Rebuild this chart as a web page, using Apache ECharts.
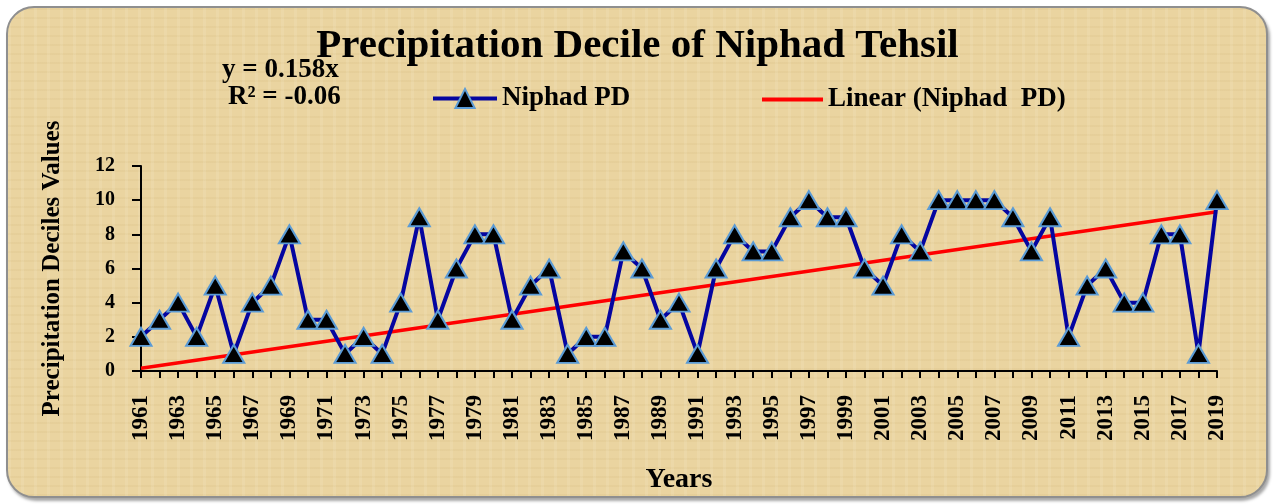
<!DOCTYPE html>
<html>
<head>
<meta charset="utf-8">
<script src="https://cdn.jsdelivr.net/npm/echarts@6/dist/echarts.min.js"></script>
<style>
  html, body { margin: 0; padding: 0; background: #ffffff; }
  #frame {
    position: absolute; left: 6px; top: 6px; width: 1258px; height: 488px;
    border: 2px solid #8f8f8f; border-radius: 28px;
    background-color: #EAD4A0;
    background-image:
      repeating-linear-gradient(90deg, rgba(255,255,240,0.10) 0 3px, rgba(0,0,0,0) 3px 13px),
      repeating-linear-gradient(0deg, rgba(150,110,30,0.05) 0 2px, rgba(0,0,0,0) 2px 9px);
    box-shadow: 2px 3px 3px rgba(0,0,0,0.35);
  }
  #chart { position: absolute; left: 0; top: 0; width: 1275px; height: 504px; }
</style>
</head>
<body>
<div id="frame"></div>
<div id="chart"></div>
<script>
const years = ['1961','1962','1963','1964','1965','1966','1967','1968','1969','1970',
  '1971','1972','1973','1974','1975','1976','1977','1978','1979','1980',
  '1981','1982','1983','1984','1985','1986','1987','1988','1989','1990',
  '1991','1992','1993','1994','1995','1996','1997','1998','1999','2000',
  '2001','2002','2003','2004','2005','2006','2007','2008','2009','2010',
  '2011','2012','2013','2014','2015','2016','2017','2018','2019'];
const niphadPD = [2,3,4,2,5,1,4,5,8,3,
  3,1,2,1,4,9,3,6,8,8,
  3,5,6,1,2,2,7,6,3,4,
  1,6,8,7,7,9,10,9,9,6,
  5,8,7,10,10,10,10,9,7,9,
  2,5,6,4,4,8,8,1,10];
const trendPoints = [['1961', 0.158], ['2019', 9.32]];
const yTicks = { min: 0, max: 12, interval: 2 };
const titleText = 'Precipitation Decile of Niphad Tehsil';
const eqLines = ['y = 0.158x', 'R² = -0.06'];
const seriesNames = ['Niphad PD', 'Linear (Niphad  PD)'];

const FONT = '"Liberation Serif", "Times New Roman", serif';
const legendText = { fontFamily: FONT, fontWeight: 'bold', fontSize: 27, color: '#000' };
const chart = echarts.init(document.getElementById('chart'), null, { renderer: 'canvas' });
chart.setOption({
  backgroundColor: 'transparent',
  animation: false,
  title: {
    text: titleText, left: 'center', top: 21,
    textStyle: { fontFamily: FONT, fontWeight: 'bold', fontSize: 41, color: '#000' }
  },
  graphic: [
    { type: 'text', left: 222, top: 57, style: { text: eqLines[0], fontFamily: FONT, fontWeight: 'bold', fontSize: 27, fill: '#000' } },
    { type: 'text', left: 228, top: 84, style: { text: eqLines[1], fontFamily: FONT, fontWeight: 'bold', fontSize: 27, fill: '#000' } }
  ],
  legend: [
    {
      left: 426, top: 80, itemWidth: 64, itemHeight: 24,
      lineStyle: { width: 4 },
      textStyle: legendText,
      data: [seriesNames[0]]
    },
    {
      left: 757, top: 81, itemWidth: 61, itemHeight: 4, icon: 'rect',
      textStyle: legendText,
      data: [seriesNames[1]]
    }
  ],
  grid: { left: 141, right: 58, top: 166, bottom: 133, containLabel: false },
  xAxis: {
    type: 'category', data: years, boundaryGap: false,
    name: 'Years', nameLocation: 'middle', nameGap: 95,
    nameTextStyle: { fontFamily: FONT, fontWeight: 'bold', fontSize: 28, color: '#000' },
    axisLine: { lineStyle: { color: '#000', width: 2 } },
    axisTick: { show: true, interval: 0, length: 7, lineStyle: { color: '#000', width: 2 } },
    axisLabel: { interval: 1, rotate: 90, margin: 24, fontFamily: FONT, fontWeight: 'bold', fontSize: 23, color: '#000' },
    splitLine: { show: false }
  },
  yAxis: {
    type: 'value', min: yTicks.min, max: yTicks.max, interval: yTicks.interval,
    name: 'Precipitation Deciles Values', nameLocation: 'middle', nameGap: 76, nameRotate: 90,
    nameTextStyle: { fontFamily: FONT, fontWeight: 'bold', fontSize: 25, color: '#000' },
    axisLine: { show: true, lineStyle: { color: '#000', width: 2 } },
    axisTick: { show: true, length: 9, lineStyle: { color: '#000', width: 2 } },
    axisLabel: { margin: 26, fontFamily: FONT, fontWeight: 'bold', fontSize: 20, color: '#000' },
    splitLine: { show: false }
  },
  series: [
    {
      name: seriesNames[0], type: 'line', data: niphadPD,
      symbol: 'triangle', symbolSize: [21, 18], showAllSymbol: true,
      lineStyle: { color: '#0505A0', width: 4 },
      itemStyle: { color: '#000000', borderColor: '#5B9BD5', borderWidth: 2 },
      z: 3
    },
    {
      name: seriesNames[1], type: 'line', data: trendPoints,
      symbol: 'none',
      lineStyle: { color: '#FF0000', width: 3.5 },
      itemStyle: { color: '#FF0000' },
      z: 2
    }
  ]
});
</script>
</body>
</html>
